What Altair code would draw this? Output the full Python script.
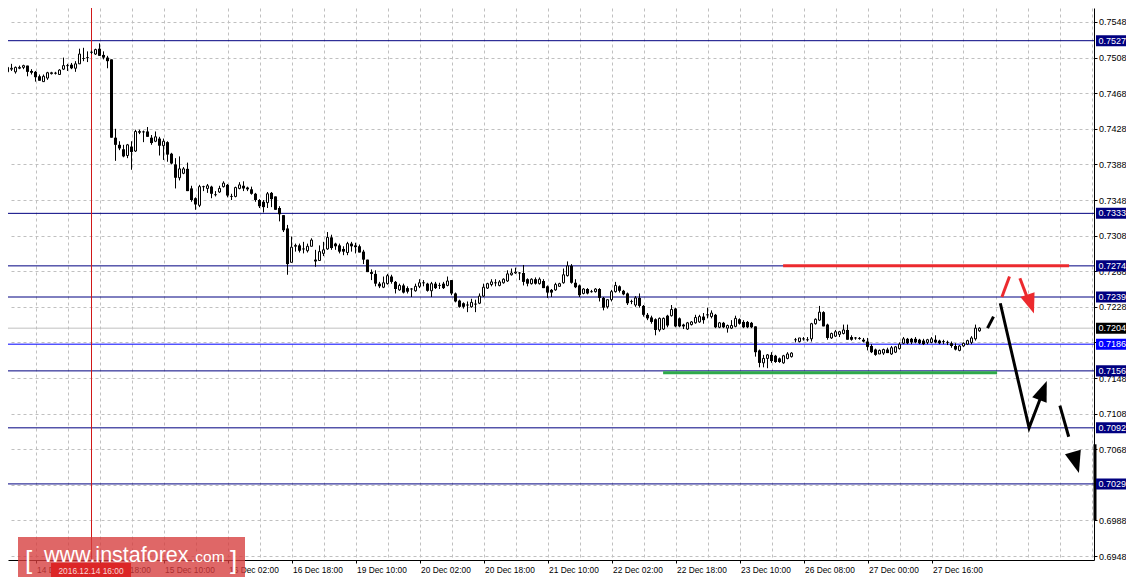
import json
import altair as alt
import pandas as pd

# ---------------- candle data (hourly bars, index 0..244) ----------------
opens = [0.7497, 0.7492, 0.7495, 0.7492, 0.7496, 0.7497, 0.7499, 0.7493, 0.7492, 0.7487,
         0.7481, 0.7485, 0.7490, 0.7491, 0.7489, 0.7495, 0.7499, 0.7500, 0.7496, 0.7501,
         0.7507, 0.7508, 0.7514, 0.7512, 0.7518, 0.7511, 0.7508, 0.7506, 0.7418, 0.7410,
         0.7405, 0.7398, 0.7408, 0.7403, 0.7424, 0.7425, 0.7425, 0.7418, 0.7414, 0.7417,
         0.7409, 0.7413, 0.7400, 0.7388, 0.7373, 0.7378, 0.7383, 0.7361, 0.7350, 0.7342,
         0.7363, 0.7361, 0.7363, 0.7354, 0.7357, 0.7363, 0.7365, 0.7352, 0.7352, 0.7361,
         0.7364, 0.7362, 0.7360, 0.7355, 0.7348, 0.7346, 0.7345, 0.7356, 0.7352, 0.7339,
         0.7331, 0.7316, 0.7278, 0.7296, 0.7297, 0.7293, 0.7291, 0.7296, 0.7281, 0.7280,
         0.7288, 0.7293, 0.7306, 0.7299, 0.7297, 0.7293, 0.7289, 0.7299, 0.7297, 0.7296,
         0.7290, 0.7281, 0.7267, 0.7265, 0.7254, 0.7250, 0.7254, 0.7262, 0.7256, 0.7247,
         0.7252, 0.7249, 0.7248, 0.7246, 0.7251, 0.7255, 0.7254, 0.7246, 0.7254, 0.7252,
         0.7254, 0.7252, 0.7258, 0.7243, 0.7235, 0.7232, 0.7230, 0.7228, 0.7231, 0.7232,
         0.7240, 0.7249, 0.7253, 0.7255, 0.7252, 0.7255, 0.7257, 0.7264, 0.7266, 0.7266,
         0.7266, 0.7259, 0.7254, 0.7259, 0.7254, 0.7257, 0.7251, 0.7247, 0.7247, 0.7251,
         0.7255, 0.7263, 0.7274, 0.7255, 0.7252, 0.7243, 0.7248, 0.7245, 0.7245, 0.7248,
         0.7238, 0.7228, 0.7236, 0.7245, 0.7251, 0.7246, 0.7243, 0.7234, 0.7230, 0.7238,
         0.7229, 0.7219, 0.7216, 0.7214, 0.7202, 0.7203, 0.7218, 0.7218, 0.7226, 0.7215,
         0.7208, 0.7203, 0.7208, 0.7210, 0.7211, 0.7217, 0.7219, 0.7217, 0.7219, 0.7205,
         0.7210, 0.7204, 0.7204, 0.7206, 0.7214, 0.7211, 0.7211, 0.7210, 0.7206, 0.7179,
         0.7165, 0.7170, 0.7174, 0.7173, 0.7170, 0.7165, 0.7170, 0.7172, 0.7191, 0.7189,
         0.7192, 0.7191, 0.7192, 0.7209, 0.7213, 0.7222, 0.7208, 0.7193, 0.7195, 0.7197,
         0.7198, 0.7202, 0.7194, 0.7193, 0.7193, 0.7191, 0.7189, 0.7184, 0.7180, 0.7175,
         0.7176, 0.7180, 0.7175, 0.7177, 0.7181, 0.7187, 0.7192, 0.7192, 0.7192, 0.7191,
         0.7190, 0.7188, 0.7188, 0.7191, 0.7190, 0.7189, 0.7188, 0.7187, 0.7184, 0.7179,
         0.7184, 0.7186, 0.7188, 0.7192, 0.7201]
highs = [0.7514, 0.7502, 0.7501, 0.7498, 0.7499, 0.7500, 0.7499, 0.7495, 0.7493, 0.7489,
         0.7489, 0.7492, 0.7492, 0.7492, 0.7495, 0.7508, 0.7501, 0.7502, 0.7504, 0.7518,
         0.7519, 0.7515, 0.7516, 0.7518, 0.7524, 0.7515, 0.7510, 0.7506, 0.7428, 0.7414,
         0.7410, 0.7411, 0.7414, 0.7427, 0.7427, 0.7426, 0.7430, 0.7421, 0.7425, 0.7419,
         0.7417, 0.7414, 0.7401, 0.7395, 0.7397, 0.7385, 0.7390, 0.7364, 0.7351, 0.7365,
         0.7364, 0.7366, 0.7364, 0.7358, 0.7364, 0.7369, 0.7366, 0.7355, 0.7363, 0.7368,
         0.7369, 0.7363, 0.7363, 0.7356, 0.7349, 0.7348, 0.7357, 0.7357, 0.7352, 0.7341,
         0.7331, 0.7320, 0.7307, 0.7299, 0.7299, 0.7301, 0.7299, 0.7305, 0.7292, 0.7297,
         0.7301, 0.7312, 0.7309, 0.7300, 0.7299, 0.7296, 0.7301, 0.7301, 0.7300, 0.7298,
         0.7292, 0.7281, 0.7270, 0.7269, 0.7256, 0.7262, 0.7265, 0.7264, 0.7257, 0.7254,
         0.7254, 0.7251, 0.7249, 0.7254, 0.7259, 0.7258, 0.7255, 0.7256, 0.7256, 0.7255,
         0.7256, 0.7262, 0.7258, 0.7244, 0.7236, 0.7233, 0.7234, 0.7237, 0.7236, 0.7243,
         0.7254, 0.7255, 0.7259, 0.7259, 0.7258, 0.7260, 0.7269, 0.7271, 0.7272, 0.7267,
         0.7275, 0.7260, 0.7260, 0.7261, 0.7261, 0.7259, 0.7252, 0.7248, 0.7255, 0.7255,
         0.7271, 0.7279, 0.7276, 0.7259, 0.7253, 0.7249, 0.7249, 0.7247, 0.7249, 0.7249,
         0.7239, 0.7236, 0.7247, 0.7256, 0.7252, 0.7247, 0.7244, 0.7236, 0.7240, 0.7243,
         0.7230, 0.7221, 0.7218, 0.7215, 0.7216, 0.7216, 0.7219, 0.7230, 0.7227, 0.7216,
         0.7209, 0.7211, 0.7212, 0.7219, 0.7219, 0.7221, 0.7227, 0.7224, 0.7220, 0.7211,
         0.7211, 0.7208, 0.7213, 0.7218, 0.7215, 0.7213, 0.7212, 0.7211, 0.7206, 0.7180,
         0.7174, 0.7175, 0.7177, 0.7174, 0.7171, 0.7174, 0.7177, 0.7177, 0.7193, 0.7193,
         0.7194, 0.7194, 0.7210, 0.7215, 0.7229, 0.7223, 0.7209, 0.7199, 0.7202, 0.7201,
         0.7208, 0.7208, 0.7196, 0.7194, 0.7194, 0.7193, 0.7193, 0.7186, 0.7181, 0.7180,
         0.7181, 0.7182, 0.7184, 0.7184, 0.7188, 0.7194, 0.7193, 0.7193, 0.7194, 0.7192,
         0.7192, 0.7192, 0.7194, 0.7196, 0.7191, 0.7191, 0.7190, 0.7189, 0.7187, 0.7185,
         0.7188, 0.7191, 0.7195, 0.7208, 0.7205]
lows = [0.7493, 0.7491, 0.7493, 0.7490, 0.7495, 0.7495, 0.7487, 0.7489, 0.7481, 0.7482,
        0.7481, 0.7483, 0.7489, 0.7489, 0.7489, 0.7494, 0.7493, 0.7495, 0.7492, 0.7501,
        0.7504, 0.7503, 0.7512, 0.7511, 0.7510, 0.7506, 0.7496, 0.7418, 0.7392, 0.7404,
        0.7396, 0.7395, 0.7382, 0.7402, 0.7422, 0.7413, 0.7419, 0.7410, 0.7413, 0.7398,
        0.7393, 0.7391, 0.7388, 0.7361, 0.7370, 0.7377, 0.7358, 0.7346, 0.7337, 0.7340,
        0.7358, 0.7356, 0.7350, 0.7352, 0.7356, 0.7362, 0.7351, 0.7348, 0.7351, 0.7360,
        0.7358, 0.7358, 0.7354, 0.7346, 0.7339, 0.7334, 0.7339, 0.7340, 0.7337, 0.7324,
        0.7312, 0.7264, 0.7278, 0.7290, 0.7289, 0.7288, 0.7289, 0.7296, 0.7273, 0.7280,
        0.7285, 0.7292, 0.7292, 0.7292, 0.7288, 0.7286, 0.7286, 0.7290, 0.7288, 0.7289,
        0.7276, 0.7267, 0.7258, 0.7251, 0.7249, 0.7249, 0.7253, 0.7254, 0.7243, 0.7246,
        0.7243, 0.7243, 0.7239, 0.7245, 0.7249, 0.7251, 0.7245, 0.7239, 0.7248, 0.7248,
        0.7248, 0.7251, 0.7241, 0.7233, 0.7227, 0.7226, 0.7222, 0.7227, 0.7222, 0.7231,
        0.7239, 0.7248, 0.7251, 0.7251, 0.7251, 0.7254, 0.7256, 0.7263, 0.7265, 0.7258,
        0.7252, 0.7251, 0.7253, 0.7253, 0.7253, 0.7249, 0.7238, 0.7239, 0.7246, 0.7251,
        0.7254, 0.7262, 0.7254, 0.7249, 0.7239, 0.7242, 0.7242, 0.7244, 0.7244, 0.7234,
        0.7224, 0.7226, 0.7234, 0.7244, 0.7244, 0.7241, 0.7230, 0.7231, 0.7228, 0.7227,
        0.7217, 0.7213, 0.7209, 0.7196, 0.7200, 0.7202, 0.7205, 0.7217, 0.7205, 0.7205,
        0.7203, 0.7202, 0.7207, 0.7209, 0.7210, 0.7209, 0.7215, 0.7215, 0.7204, 0.7204,
        0.7204, 0.7199, 0.7203, 0.7205, 0.7208, 0.7204, 0.7204, 0.7204, 0.7172, 0.7160,
        0.7160, 0.7159, 0.7165, 0.7165, 0.7165, 0.7164, 0.7169, 0.7171, 0.7188, 0.7188,
        0.7190, 0.7189, 0.7189, 0.7208, 0.7212, 0.7206, 0.7191, 0.7192, 0.7194, 0.7194,
        0.7197, 0.7191, 0.7190, 0.7191, 0.7191, 0.7188, 0.7179, 0.7176, 0.7173, 0.7175,
        0.7174, 0.7176, 0.7174, 0.7176, 0.7180, 0.7186, 0.7186, 0.7186, 0.7187, 0.7186,
        0.7185, 0.7186, 0.7187, 0.7187, 0.7186, 0.7186, 0.7185, 0.7182, 0.7179, 0.7178,
        0.7183, 0.7185, 0.7186, 0.7190, 0.7200]
closes = [0.7496, 0.7497, 0.7496, 0.7497, 0.7497, 0.7499, 0.7492, 0.7491, 0.7486, 0.7482,
          0.7487, 0.7491, 0.7491, 0.7490, 0.7494, 0.7499, 0.7499, 0.7496, 0.7501, 0.7512,
          0.7507, 0.7508, 0.7514, 0.7517, 0.7510, 0.7508, 0.7504, 0.7418, 0.7410, 0.7406,
          0.7397, 0.7410, 0.7402, 0.7425, 0.7425, 0.7424, 0.7419, 0.7412, 0.7419, 0.7409,
          0.7414, 0.7399, 0.7389, 0.7373, 0.7383, 0.7383, 0.7358, 0.7348, 0.7343, 0.7363,
          0.7363, 0.7364, 0.7355, 0.7354, 0.7361, 0.7367, 0.7353, 0.7352, 0.7362, 0.7365,
          0.7361, 0.7360, 0.7355, 0.7348, 0.7341, 0.7340, 0.7355, 0.7349, 0.7337, 0.7332,
          0.7314, 0.7276, 0.7295, 0.7297, 0.7291, 0.7293, 0.7296, 0.7303, 0.7279, 0.7290,
          0.7292, 0.7306, 0.7294, 0.7296, 0.7290, 0.7290, 0.7299, 0.7296, 0.7295, 0.7289,
          0.7281, 0.7267, 0.7265, 0.7254, 0.7251, 0.7255, 0.7263, 0.7256, 0.7248, 0.7252,
          0.7244, 0.7245, 0.7248, 0.7251, 0.7255, 0.7255, 0.7246, 0.7254, 0.7249, 0.7252,
          0.7249, 0.7257, 0.7243, 0.7234, 0.7228, 0.7228, 0.7230, 0.7233, 0.7231, 0.7240,
          0.7250, 0.7254, 0.7256, 0.7255, 0.7256, 0.7259, 0.7265, 0.7266, 0.7267, 0.7266,
          0.7256, 0.7254, 0.7259, 0.7254, 0.7259, 0.7249, 0.7244, 0.7244, 0.7253, 0.7254,
          0.7264, 0.7274, 0.7255, 0.7250, 0.7241, 0.7248, 0.7243, 0.7245, 0.7248, 0.7238,
          0.7227, 0.7236, 0.7245, 0.7252, 0.7246, 0.7242, 0.7232, 0.7234, 0.7238, 0.7229,
          0.7219, 0.7215, 0.7211, 0.7202, 0.7215, 0.7215, 0.7207, 0.7225, 0.7206, 0.7206,
          0.7206, 0.7210, 0.7211, 0.7216, 0.7217, 0.7213, 0.7219, 0.7221, 0.7205, 0.7210,
          0.7205, 0.7207, 0.7207, 0.7215, 0.7209, 0.7205, 0.7205, 0.7205, 0.7177, 0.7165,
          0.7170, 0.7174, 0.7167, 0.7166, 0.7166, 0.7173, 0.7175, 0.7176, 0.7191, 0.7193,
          0.7192, 0.7191, 0.7209, 0.7214, 0.7222, 0.7206, 0.7193, 0.7198, 0.7200, 0.7200,
          0.7202, 0.7191, 0.7191, 0.7193, 0.7192, 0.7189, 0.7183, 0.7177, 0.7174, 0.7179,
          0.7180, 0.7176, 0.7182, 0.7183, 0.7186, 0.7192, 0.7187, 0.7188, 0.7188, 0.7187,
          0.7186, 0.7191, 0.7192, 0.7188, 0.7187, 0.7189, 0.7188, 0.7184, 0.7180, 0.7184,
          0.7187, 0.7190, 0.7193, 0.7204, 0.7204]

# ---------------- axes ----------------
price_ticks = [0.6948, 0.6988, 0.7028, 0.7068, 0.7108, 0.7148, 0.7188, 0.7228,
               0.7268, 0.7308, 0.7348, 0.7388, 0.7428, 0.7468, 0.7508, 0.7548]
grid_bars = list(range(8, 273, 8))
time_label_bars = [8, 24, 40, 56, 72, 88, 104, 120, 136, 152, 168, 184, 200, 216, 232]
time_label_text = ["14 Dec 02:00", "14 Dec 18:00", "15 Dec 10:00", "16 Dec 02:00",
                   "16 Dec 18:00", "19 Dec 10:00", "20 Dec 02:00", "20 Dec 18:00",
                   "21 Dec 10:00", "22 Dec 02:00", "22 Dec 18:00", "23 Dec 10:00",
                   "26 Dec 08:00", "27 Dec 00:00", "27 Dec 16:00"]

# ---------------- horizontal levels ----------------
level_prices = [0.7527, 0.7333, 0.7274, 0.7239, 0.7204, 0.7186, 0.7156, 0.7092, 0.7029]
level_line_colors = ["#000080", "#000080", "#000080", "#000080", "#C0C0C0",
                     "#0000FF", "#000080", "#000080", "#000080"]
level_box_colors = ["#000080", "#000080", "#000080", "#000080", "#000000",
                    "#0000FF", "#000080", "#000080", "#000080"]

# ---------------- drawn annotations (bar index, price) ----------------
crosshair_bar = 22
support_bars = [164.9, 248.4]
support_price = 0.7154
resistance_bars = [194.9, 266.4]
resistance_price = 0.7274

black_short_k = [246.0, 247.5]
black_short_p = [0.7204, 0.7217]
black_main_k = [249.2, 256.4, 259.3]
black_main_p = [0.7232, 0.7092, 0.7126]
black_up_head = (259.9, 0.7134, 21)
black_dash_k = [264.1, 266.3]
black_dash_p = [0.7117, 0.7082]
black_down_head = (268.1, 0.7053, 164)
red_short_k = [249.6, 251.5]
red_short_p = [0.7239, 0.7262]
red_shaft_k = [254.1, 255.8]
red_shaft_p = [0.7260, 0.7240]
red_head = (256.8, 0.7231, 161)
scale_bar_prices = [0.70735, 0.69884]

watermark_parts = ["[", "www.instaforex", ".com", "]"]
date_label = "2016.12.14 16:00"

# ---------------- geometry ----------------
W, H = 1086, 552
xs = alt.Scale(domain=[1.125, 272.625], nice=False, zero=False)
ys = alt.Scale(domain=[0.694351, 0.756373], nice=False, zero=False)
FONT = "Liberation Sans"
RED = "#EC2A2E"
ARROW = "M0,-1L0.75,1L-0.75,1Z"

label_test = f"indexof({time_label_bars}, datum.value) >= 0"
label_expr = (f"{label_test} ? {json.dumps(time_label_text)}"
              f"[indexof({time_label_bars}, datum.value)] : ''")

xaxis = alt.Axis(values=grid_bars, labelExpr=label_expr, title=None, grid=True,
                 gridColor="#C0C0C0", gridDash=[3, 3], gridWidth=1,
                 domain=True, domainColor="black", domainWidth=1,
                 ticks=True, tickSize=3,
                 tickColor={"condition": {"test": label_test, "value": "black"},
                            "value": "rgba(0,0,0,0)"},
                 labelAlign="left", labelBaseline="top", labelPadding=2, labelOffset=1,
                 labelFont=FONT, labelFontSize=8.4, labelColor="black",
                 labelOverlap=False, labelFlush=False, labelBound=False)
yaxis = alt.Axis(orient="right", values=price_ticks, format=".4f", title=None, grid=True,
                 gridColor="#C0C0C0", gridDash=[3, 3], gridWidth=1,
                 domain=True, domainColor="black", domainWidth=1,
                 ticks=True, tickSize=3, tickColor="black", labelPadding=1.5,
                 labelFont=FONT, labelFontSize=9, labelColor="black",
                 labelAlign="left", labelBaseline="middle",
                 labelOverlap=False, labelFlush=False, labelBound=False)


def X(field):
    return alt.X(field, scale=xs, axis=xaxis, title=None)


def Y(field):
    return alt.Y(field, scale=ys, axis=yaxis, title=None)


candles = pd.DataFrame({"k": list(range(len(opens))), "o": opens, "h": highs,
                        "l": lows, "c": closes})
base = alt.Chart(candles).transform_calculate(
    top="max(datum.o, datum.c)", bot="min(datum.o, datum.c)",
    xa="datum.k - 0.25", xb="datum.k + 0.25",
    xa3="datum.k - 0.375", xb3="datum.k + 0.375")

levels = pd.DataFrame({"p": level_prices, "line": level_line_colors,
                       "box": level_box_colors,
                       "txt": [f"{v:.4f}" for v in level_prices]})
level_lines = alt.Chart(levels).mark_rule(strokeWidth=1).encode(
    y=Y("p:Q"), color=alt.Color("line:N", scale=None))

crosshair = alt.Chart(pd.DataFrame({"k": [crosshair_bar]})).mark_rule(
    color="#D01818", strokeWidth=1).encode(x=X("k:Q"))

wicks = base.mark_rule(color="black", strokeWidth=1, clip=True).encode(
    x=X("k:Q"), y=Y("l:Q"), y2="h:Q")
bull = base.transform_filter("datum.c >= datum.o").mark_rect(
    fill="white", stroke="black", strokeWidth=1, clip=True).encode(
    x=X("xa:Q"), x2="xb:Q", y=Y("bot:Q"), y2="top:Q")
bear = base.transform_filter("datum.c < datum.o").mark_rect(
    fill="black", strokeWidth=0, clip=True).encode(
    x=X("xa3:Q"), x2="xb3:Q", y=Y("bot:Q"), y2="top:Q")


def hline(ks, p, color):
    df = pd.DataFrame({"k1": [ks[0]], "k2": [ks[1]], "p": [p]})
    return alt.Chart(df).mark_rule(color=color, strokeWidth=3).encode(
        x=X("k1:Q"), x2="k2:Q", y=Y("p:Q"))


def path(ks, ps, color):
    df = pd.DataFrame({"k": ks, "p": ps, "i": list(range(len(ks)))})
    return alt.Chart(df).mark_line(color=color, strokeWidth=3, strokeCap="butt",
                                   strokeJoin="miter").encode(
        x=X("k:Q"), y=Y("p:Q"), order="i:Q")


def head(spec, color, size):
    k, p, ang = spec
    df = pd.DataFrame({"k": [k], "p": [p]})
    return alt.Chart(df).mark_point(shape=ARROW, filled=True, color=color, opacity=1,
                                    strokeWidth=0, size=size, angle=ang).encode(
        x=X("k:Q"), y=Y("p:Q"))


support = hline(support_bars, support_price, "#2EAA4A")
resist = hline(resistance_bars, resistance_price, RED)

annotations = [
    path(black_short_k, black_short_p, "black"),
    path(black_main_k, black_main_p, "black"),
    head(black_up_head, "black", 420),
    path(black_dash_k, black_dash_p, "black"),
    head(black_down_head, "black", 480),
    path(red_short_k, red_short_p, RED),
    path(red_shaft_k, red_shaft_p, RED),
    head(red_head, RED, 400),
]

scale_bar = alt.Chart(pd.DataFrame({"a": [scale_bar_prices[0]],
                                    "b": [scale_bar_prices[1]]})).mark_rule(
    color="black", strokeWidth=3).encode(x=alt.value(W + 1), y=Y("a:Q"), y2="b:Q")

box_base = alt.Chart(levels).transform_calculate(lo="datum.p - 0.00062",
                                                 hi="datum.p + 0.00062")
boxes = box_base.mark_rect(strokeWidth=0).encode(
    x=alt.value(W + 2), x2=alt.value(W + 48),
    y=Y("lo:Q"), y2="hi:Q", fill=alt.Color("box:N", scale=None))
box_text = alt.Chart(levels).mark_text(align="left", baseline="middle", font=FONT,
                                       fontSize=9, color="white").encode(
    x=alt.value(W + 4.5), y=Y("p:Q"), text="txt:N")

# watermark
wm_box = alt.Chart(pd.DataFrame({"t": ["wm"]})).mark_rect(
    fill="#D63C3C", opacity=0.78).encode(x=alt.value(10), x2=alt.value(237),
                                         y=alt.value(529), y2=alt.value(569))
wm_df = pd.DataFrame({"t": watermark_parts, "slot": [0, 1, 2, 3]})


def wm_text(i, x, size, y):
    return alt.Chart(wm_df).transform_filter(f"datum.slot == {i}").mark_text(
        align="left", baseline="alphabetic", font=FONT, fontSize=size,
        color="white").encode(x=alt.value(x), y=alt.value(y), text="t:N")


wm_texts = [wm_text(0, 17, 26, 561), wm_text(1, 36, 21.5, 554),
            wm_text(2, 183, 15.5, 554), wm_text(3, 222, 26, 561)]

# date label box on the time axis (drawn over the watermark)
date_box = alt.Chart(pd.DataFrame({"t": [date_label]})).mark_rect(
    fill="#DC2626").encode(x=alt.value(43), x2=alt.value(123),
                           y=alt.value(555), y2=alt.value(569))
date_text = alt.Chart(pd.DataFrame({"t": [date_label]})).mark_text(
    align="center", baseline="middle", font=FONT, fontSize=8.4, color="#F6D8D8").encode(
    x=alt.value(83), y=alt.value(562.5), text="t:N")

chart = alt.layer(
    level_lines, crosshair, wicks, bull, bear, support, resist,
    *annotations, scale_bar, boxes, box_text, wm_box, *wm_texts, date_box, date_text
).properties(
    width=W, height=H,
    padding={"left": 0, "top": 0, "right": 32, "bottom": 18},
    autosize=alt.AutoSizeParams(type="none"),
    background="white",
).configure_view(stroke=None)

chart.save("out.html", embed_options={"renderer": "svg", "actions": False})
